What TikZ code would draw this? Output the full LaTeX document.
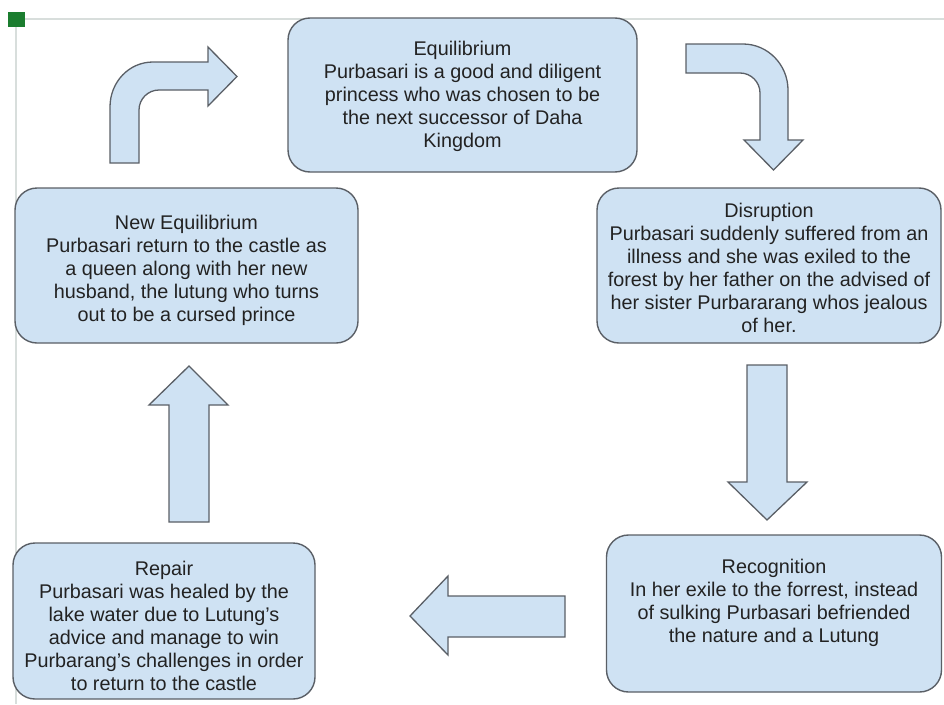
\documentclass[tikz,border=0pt]{standalone}
\usepackage{fontspec}
\setmainfont{Liberation Sans}
\definecolor{boxfill}{HTML}{CFE2F3}
\definecolor{boxline}{HTML}{5A5F66}
\definecolor{txt}{HTML}{222222}
\definecolor{frameline}{HTML}{D8DEDC}
\definecolor{handle}{HTML}{1B7D2F}
\tikzset{
  stagebox/.style={draw=boxline, fill=boxfill, line width=1.4pt, rounded corners=22pt},
  stagetext/.style={align=center, text=txt, font=\fontsize{19.8pt}{23pt}\selectfont, inner sep=0pt},
  blockarrow/.style={draw=boxline, fill=boxfill, line width=1.3pt, line join=miter}
}
\begin{document}
\begin{tikzpicture}[x=1pt,y=-1pt]
\useasboundingbox (0,0) rectangle (944,704);
% frame
\draw[frameline, line width=1.5pt] (25,19) -- (944,19);
\draw[frameline, line width=1.5pt] (16,27) -- (16,704);
\fill[handle] (8,12) rectangle (25,27);
% boxes
\node[stagebox, minimum width=349pt, minimum height=154pt] (eq) at (462.5,95) {};
\node[stagebox, minimum width=343pt, minimum height=155pt] (neq) at (186.5,265.5) {};
\node[stagebox, minimum width=344pt, minimum height=155pt] (dis) at (769,265.5) {};
\node[stagebox, minimum width=335pt, minimum height=157pt] (rec) at (774,613.5) {};
\node[stagebox, minimum width=302pt, minimum height=156pt] (rep) at (164,621) {};
% texts
\node[stagetext] (eqt) at (462.5,96.5) {Equilibrium\\Purbasari is a good and diligent\\princess who was chosen to be\\the next successor of Daha\\Kingdom};
\node[stagetext] (neqt) at (186.5,270) {New Equilibrium\\Purbasari return to the castle as\\a queen along with her new\\husband, the lutung who turns\\out to be a cursed prince};
\node[stagetext] (dist) at (769,268) {Disruption\\Purbasari suddenly suffered from an\\illness and she was exiled to the\\forest by her father on the advised of\\her sister Purbararang whos jealous\\of her.};
\node[stagetext] (rect) at (774,603) {Recognition\\In her exile to the forrest, instead\\of sulking Purbasari befriended\\the nature and a Lutung};
\node[stagetext] (rept) at (164,626) {Repair\\Purbasari was healed by the\\lake water due to Lutung's\\advice and manage to win\\Purbarang's challenges in order\\to return to the castle};
% block arrows
\draw[blockarrow] (110,163) -- (110,107) .. controls (110,82) and (129,62) .. (153,62)
  -- (208,62) -- (208,47) -- (237,76.5) -- (208,106) -- (208,90) -- (159,90)
  .. controls (148,90) and (139,99) .. (139,110) -- (139,163) -- cycle;
\draw[blockarrow] (686,44) -- (743,44) .. controls (768,44) and (788,65) .. (788,90)
  -- (788,140) -- (803,140) -- (773.5,170) -- (744,140) -- (760,140) -- (760,93)
  .. controls (760,82) and (751,73) .. (740,73) -- (686,73) -- cycle;
\draw[blockarrow] (747,365) -- (787,365) -- (787,482) -- (807,482) -- (767,520) -- (728,482) -- (747,482) -- cycle;
\draw[blockarrow] (169,522) -- (169,405) -- (149,405) -- (189,366) -- (228,405) -- (209,405) -- (209,522) -- cycle;
\draw[blockarrow] (565,596) -- (448,596) -- (448,576) -- (410,616) -- (448,655) -- (448,637) -- (565,637) -- cycle;
\end{tikzpicture}
\end{document}
